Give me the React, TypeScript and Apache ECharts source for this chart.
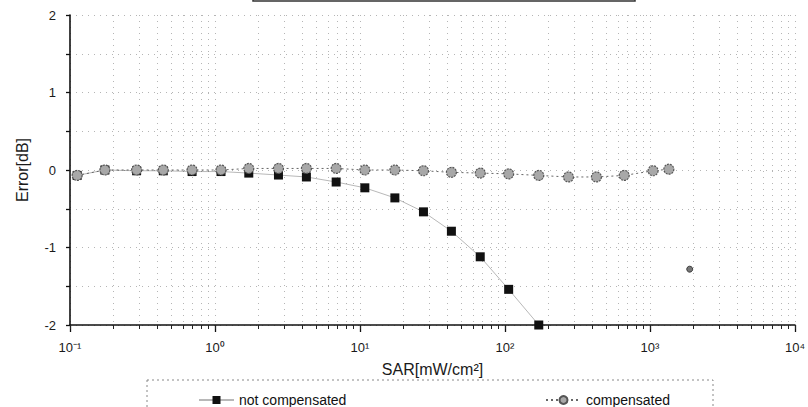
import React, { useEffect, useRef } from "react";
import * as echarts from "echarts";

const sarCompensated = [0.112, 0.174, 0.288, 0.44, 0.695, 1.1, 1.71, 2.74, 4.27, 6.85, 10.8, 17.4, 27.4, 42.7, 67.5, 106, 171, 274, 427, 664, 1050, 1349];
const errCompensated = [-0.07, 0, 0, 0, 0, 0, 0.02, 0.02, 0.02, 0.02, 0, 0, -0.01, -0.03, -0.04, -0.05, -0.07, -0.09, -0.09, -0.07, -0.01, 0.01];
const sarNotCompensated = [0.112, 0.174, 0.288, 0.44, 0.695, 1.1, 1.71, 2.74, 4.27, 6.85, 10.8, 17.4, 27.4, 42.7, 67.5, 106, 171];
const errNotCompensated = [-0.07, 0, -0.01, -0.01, -0.02, -0.02, -0.04, -0.065, -0.09, -0.155, -0.23, -0.36, -0.54, -0.79, -1.12, -1.54, -2.0];
const strayPoint = [1879, -1.28];
const xMajorTicks = [0.1, 1, 10, 100, 1000, 10000];
const xTickLabels = ["10\u207B\u00B9", "10\u2070", "10\u00B9", "10\u00B2", "10\u00B3", "10\u2074"];
const yTickLabels = ["-2", "-1", "0", "1", "2"];

function minorValues(): number[] {
  const out: number[] = [];
  for (let e = -1; e < 4; e++) {
    for (let k = 1; k <= 9; k++) out.push(Number((k * Math.pow(10, e)).toPrecision(3)));
  }
  out.push(10000);
  return out;
}

const FONT = "'Liberation Sans', Arial, sans-serif";

export default function App() {
  const ref = useRef<HTMLDivElement>(null);
  useEffect(() => {
    if (!ref.current) return;
    const chart = echarts.init(ref.current, null, { renderer: "svg" });
    const minors = minorValues();
    chart.setOption({
      animation: false,
      backgroundColor: "#ffffff",
      textStyle: { fontFamily: FONT },
      grid: { left: 70, right: 8, top: 15, bottom: 82 },
      xAxis: [
        {
          type: "log",
          logBase: 10,
          min: 0.1,
          max: 10000,
          name: "SAR[mW/cm\u00B2]",
          nameLocation: "middle",
          nameGap: 36,
          nameTextStyle: { fontSize: 16, color: "#1a1a1a", fontFamily: FONT },
          axisLine: { onZero: false, lineStyle: { color: "#111", width: 1.6 } },
          axisTick: { show: true, length: 7, lineStyle: { color: "#111", width: 1.3 }, customValues: xMajorTicks },
          axisLabel: {
            show: true,
            margin: 16,
            fontSize: 13,
            color: "#1a1a1a",
            fontFamily: FONT,
            customValues: xMajorTicks,
            formatter: (v: number) => {
              const i = xMajorTicks.findIndex((t) => Math.abs(Math.log10(t) - Math.log10(v)) < 1e-6);
              return i >= 0 ? xTickLabels[i] : "";
            },
          },
          splitLine: { show: false },
        },
        {
          type: "log",
          logBase: 10,
          min: 0.1,
          max: 10000,
          position: "bottom",
          axisLine: { show: false, onZero: false },
          axisTick: { show: true, length: 4, lineStyle: { color: "#222", width: 1 }, customValues: minors },
          axisLabel: { show: false },
          splitLine: { show: true, lineStyle: { color: "#b5b5b5", width: 1, type: [1, 5] } },
        },
      ],
      yAxis: {
        type: "value",
        min: -2,
        max: 2,
        interval: 0.5,
        axisLine: { show: true, onZero: false, lineStyle: { color: "#111", width: 1.6 } },
        axisTick: { show: true, inside: false, length: 4, lineStyle: { color: "#111", width: 1.3 } },
        axisLabel: {
          margin: 14,
          fontSize: 13,
          color: "#1a1a1a",
          fontFamily: FONT,
          formatter: (v: number) => (Number.isInteger(v) ? yTickLabels[v + 2] : ""),
        },
        name: "Error[dB]",
        nameLocation: "middle",
        nameGap: 40,
        nameRotate: 90,
        nameTextStyle: { fontSize: 16, color: "#1a1a1a", fontFamily: FONT },
        splitLine: { show: true, lineStyle: { color: "#b5b5b5", width: 1, type: [1, 5] } },
      },
      legend: [
        {
          data: ["not compensated"],
          left: 193,
          top: 388,
          itemWidth: 35,
          itemHeight: 10,
          textStyle: { fontSize: 14, color: "#111", fontFamily: FONT },
        },
        {
          data: ["compensated"],
          left: 540,
          top: 388,
          itemWidth: 35,
          itemHeight: 10,
          textStyle: { fontSize: 14, color: "#111", fontFamily: FONT },
        },
      ],
      graphic: [
        {
          type: "rect",
          shape: { x: 147, y: 380, width: 566, height: 40 },
          style: { fill: "none", stroke: "#888", lineWidth: 1, lineDash: [2, 3] },
          silent: true,
        },
        {
          type: "rect",
          shape: { x: 253, y: -20, width: 382, height: 21 },
          style: { fill: "none", stroke: "#333", lineWidth: 1.5 },
          silent: true,
        },
      ],
      series: [
        {
          name: "not compensated",
          type: "line",
          xAxisIndex: 0,
          data: sarNotCompensated.map((x, i) => [x, errNotCompensated[i]]),
          symbol: "rect",
          symbolSize: 9,
          itemStyle: { color: "#111", opacity: 1 },
          lineStyle: { color: "#333", width: 1, opacity: 0.35 },
          z: 3,
        },
        {
          name: "compensated",
          type: "line",
          xAxisIndex: 0,
          data: sarCompensated.map((x, i) => [x, errCompensated[i]]),
          symbol: "circle",
          symbolSize: 10,
          itemStyle: { color: "#a8a8a8", borderColor: "#555", borderWidth: 1.2, borderType: [2, 1], opacity: 1 },
          lineStyle: { color: "#666", width: 1, type: [2, 3] },
          z: 4,
        },
        {
          name: "stray",
          type: "scatter",
          xAxisIndex: 0,
          data: [strayPoint],
          symbol: "circle",
          symbolSize: 6,
          itemStyle: { color: "#555", borderColor: "#222", borderWidth: 1 },
          z: 4,
        },
      ],
    });
    return () => chart.dispose();
  }, []);
  return <div ref={ref} style={{ width: 808, height: 407, position: "absolute", left: 0, top: 0 }} />;
}
